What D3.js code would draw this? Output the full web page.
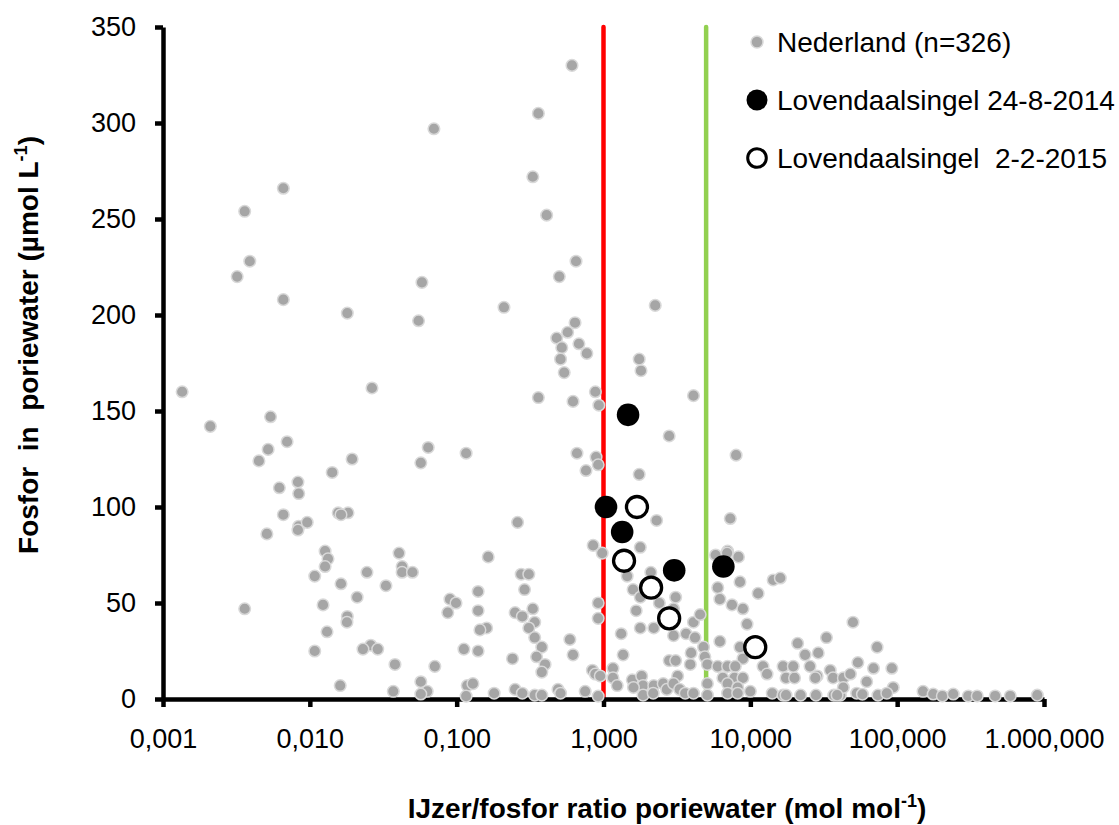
<!DOCTYPE html>
<html>
<head>
<meta charset="utf-8">
<script src="https://cdn.jsdelivr.net/npm/d3@7"></script>
<style>
    body { margin: 0; background: #fff; }
    svg { display: block; font-family: "Liberation Sans", Arial, sans-serif; }
</style>
</head>
<body>
<div id="graph"></div>
<script>
// Nederland (n=326): Fe/P ratio (mol/mol) and P in porewater (umol/L)
const nlRatio = [
    0.00135, 0.0021, 0.0054, 0.0070, 0.0052, 0.0045, 0.0194, 0.0265, 0.064, 0.057, 0.116, 0.0142,
    0.0083, 0.0062, 0.0084, 0.0066, 0.0156, 0.0182, 0.0163, 0.0084, 0.0096, 0.0051, 0.0127, 0.0405,
    0.61, 0.36, 0.070, 0.33, 0.41, 0.65, 0.50, 0.058, 0.0032, 0.0039, 0.0036, 0.0066, 0.0066, 2.25,
    0.21, 0.018, 0.055,
    0.64, 0.57, 0.48, 0.52, 0.68, 0.77, 0.51, 0.54, 1.75, 1.80, 0.88, 0.36, 0.62, 0.93, 4.1, 2.8,
    8.0, 0.66, 0.89, 0.92, 0.76, 1.75, 0.26, 2.3, 7.3, 0.85, 1.78, 7.0, 0.98,
    0.164, 0.275, 0.31, 0.29, 0.92, 0.92, 0.25, 0.33, 0.28, 0.34, 0.31, 0.16, 0.144, 0.14, 0.14,
    0.34, 0.38, 0.35, 0.40, 0.38, 0.24, 0.59, 0.62, 0.14, 0.18, 0.25, 0.28, 0.34, 0.38, 0.49, 0.51,
    0.75, 0.84, 0.88, 0.95, 0.92,
    1.16, 1.16, 1.24, 1.32, 1.36, 1.45, 1.59, 1.67, 1.78, 1.78, 2.1, 2.2, 2.4, 3.1, 3.0, 3.0, 3.65,
    4.1, 4.55, 4.2, 3.95, 4.8, 4.9, 3.9, 5.1, 2.8, 3.1, 3.2, 1.57, 1.82, 1.86, 1.6, 2.2, 1.86, 2.18,
    2.55, 2.7, 3.0, 3.3, 3.6, 4.1, 5.1, 5.1,
    5.8, 6.95, 8.3, 8.5, 6.0, 6.2, 7.5, 8.9, 9.5, 11.3, 14.3, 16, 6.2, 8.5, 8.9, 6.0, 7.0, 7.9, 6.5,
    7.8, 8.9, 7.0, 8.2, 7.0, 8.2, 10, 12.2, 13, 14.1, 16.7, 17.5, 16.7, 20, 21, 23.6, 29, 33, 50,
    25.5, 28.5, 35, 36.6, 43, 48, 54, 62, 22, 28, 37, 41, 53, 58, 73, 74,
    19.6, 69, 92, 27.7, 43, 94, 85, 17.5, 39, 150, 176, 203, 241, 305, 351, 465, 589, 900,
    0.0083, 0.0133, 0.0127, 0.0108, 0.0245, 0.0163, 0.033, 0.0425, 0.0425, 0.05, 0.021, 0.0123,
    0.0036, 0.018, 0.0179, 0.0131, 0.026, 0.023, 0.029, 0.0108, 0.038, 0.071, 0.0161, 0.037, 0.057,
    0.063, 0.057, 0.090, 0.099, 0.087, 0.112, 0.118, 0.129, 0.116
];
const nlP = [
    160, 142, 147, 134, 130, 124, 125, 162, 131, 123, 128, 118,
    113, 110, 107, 96, 97, 97, 96, 90, 92, 86, 77, 76,
    330, 305, 297, 272, 252, 228, 220, 217, 220, 228, 254, 266, 208, 205,
    204, 201, 197,
    196, 191, 188, 183, 185, 180, 177, 170, 177, 171, 160, 157, 155, 153, 158, 137,
    127, 128, 126, 122, 119, 117, 92, 93, 94, 80, 79, 77, 76,
    74, 65, 65, 57, 50, 42, 45, 47, 43, 40, 37, 37, 36, 46, 56,
    32, 27, 22, 18, 14, 21, 31, 23, 25, 3, 5, 3, 2, 2, 5, 3,
    4, 15, 13, 12, 1.5,
    16, 11, 7, 34, 23, 64, 57, 46, 37, 53, 66, 37, 50, 53, 47, 33, 34,
    40, 44, 32, 24, 27, 22, 18, 18, 20, 20, 12, 10, 12, 7, 6, 7, 2, 3,
    8, 5, 8, 5, 3, 3, 8, 2,
    75, 76, 74, 61, 58, 52, 49, 47, 39, 55, 62, 63, 30, 27, 21, 17, 17, 17, 11,
    11, 11, 8, 6, 3, 3, 4, 17, 13, 3, 17, 11, 2, 11, 29, 23, 24, 32, 40,
    17, 12, 15, 11, 11, 13, 19, 9, 2, 2, 2, 2, 3, 2.5, 27, 2,
    17, 16, 16, 11, 6, 6, 3, 2, 2, 4, 2.6, 1.6, 2.6, 1.6, 1.6, 1.6, 1.6, 2,
    88, 73, 69, 64, 66, 60, 59, 69, 66, 66, 53, 49,
    47, 43, 40, 35, 28, 26, 26, 25, 18, 17, 7, 4, 9,
    4, 2.6, 52, 50, 45, 26, 7, 8, 1.5
];

// Lovendaalsingel 24-8-2014 (filled) and 2-2-2015 (open)
const lov2014Ratio = [1.47, 1.04, 1.34, 3.03, 6.55];
const lov2014P = [148, 100, 87, 67, 69];
const lov2015Ratio = [1.69, 1.38, 2.11, 2.80, 10.8];
const lov2015P = [100, 72, 58, 42, 27];

// threshold lines (Fe/P ratio)
const thresholds = [1, 5];
const thresholdColors = ["#ff0000", "#92d050"];

const xTickValues = [0.001, 0.01, 0.1, 1, 10, 100, 1000];
const xTickLabels = ["0,001", "0,010", "0,100", "1,000", "10,000", "100,000", "1.000,000"];
const yTicks = [0, 50, 100, 150, 200, 250, 300, 350];

const legendLabels = ["Nederland (n=326)", "Lovendaalsingel 24-8-2014", "Lovendaalsingel  2-2-2015"];

const width = 1119;
const height = 825;
const margin = {top: 27, right: 75, bottom: 126, left: 163};

const svg = d3.select("#graph").append("svg")
    .attr("width", width)
    .attr("height", height)
    .attr("viewBox", [0, 0, width, height]);

const xScale = d3.scaleLog()
    .domain([0.001, 1000])
    .range([margin.left, width - margin.right]);

const yScale = d3.scaleLinear()
    .domain([0, 350])
    .range([height - margin.bottom, margin.top]);

const xAxis = d3.axisBottom(xScale)
    .tickValues(xTickValues)
    .tickFormat((d, i) => xTickLabels[i])
    .tickSize(8)
    .tickSizeOuter(0)
    .tickPadding(22);

const yAxis = d3.axisLeft(yScale)
    .tickValues(yTicks)
    .tickSize(8)
    .tickSizeOuter(0)
    .tickPadding(19);

// threshold lines go under the points
svg.append("g")
    .selectAll("line")
    .data(thresholds)
    .join("line")
        .attr("x1", d => xScale(d))
        .attr("x2", d => xScale(d))
        .attr("y1", yScale(0))
        .attr("y2", yScale(350))
        .attr("stroke", (d, i) => thresholdColors[i])
        .attr("stroke-width", 4.5)
        .attr("stroke-linecap", "round");

svg.append("g")
    .attr("transform", `translate(0,${yScale(0)})`)
    .call(xAxis)
    .call(g => g.select(".domain").attr("stroke-width", 4.5))
    .call(g => g.selectAll(".tick line").attr("stroke-width", 4.5))
    .call(g => g.selectAll(".tick text").attr("font-size", 27).attr("font-family", null));

svg.append("g")
    .attr("transform", `translate(${xScale(0.001)},0)`)
    .call(yAxis)
    .call(g => g.select(".domain").attr("stroke-width", 4.5))
    .call(g => g.selectAll(".tick line").attr("stroke-width", 4.5))
    .call(g => g.selectAll(".tick text").attr("font-size", 27).attr("font-family", null));

// Nederland points
svg.append("g")
    .selectAll("circle")
    .data(d3.range(nlRatio.length))
    .join("circle")
        .attr("cx", i => xScale(nlRatio[i]))
        .attr("cy", i => yScale(nlP[i]))
        .attr("r", 5.8)
        .attr("fill", "#a6a6a6")
        .attr("stroke", "#d9d9d9")
        .attr("stroke-width", 1.5);

svg.append("g")
    .selectAll("circle")
    .data(d3.range(lov2014Ratio.length))
    .join("circle")
        .attr("cx", i => xScale(lov2014Ratio[i]))
        .attr("cy", i => yScale(lov2014P[i]))
        .attr("r", 11.3)
        .attr("fill", "#000");

svg.append("g")
    .selectAll("circle")
    .data(d3.range(lov2015Ratio.length))
    .join("circle")
        .attr("cx", i => xScale(lov2015Ratio[i]))
        .attr("cy", i => yScale(lov2015P[i]))
        .attr("r", 10.5)
        .attr("fill", "#fff")
        .attr("stroke", "#000")
        .attr("stroke-width", 3.3);

// axis titles
const xTitle = svg.append("text")
    .attr("x", 667)
    .attr("y", 818)
    .attr("text-anchor", "middle")
    .attr("font-size", 28)
    .attr("font-weight", "bold");
xTitle.append("tspan").text("IJzer/fosfor ratio poriewater (mol mol");
xTitle.append("tspan").attr("font-size", 18).attr("dy", -11).text("-1");
xTitle.append("tspan").attr("dy", 11).text(")");

const yTitle = svg.append("text")
    .attr("transform", "translate(38,345) rotate(-90)")
    .attr("text-anchor", "middle")
    .attr("font-size", 28)
    .attr("font-weight", "bold")
    .style("white-space", "pre");
yTitle.append("tspan").text("Fosfor  in  poriewater (µmol L");
yTitle.append("tspan").attr("font-size", 18).attr("dy", -11).text("-1");
yTitle.append("tspan").attr("dy", 11).text(")");

// legend
const legend = svg.append("g")
    .attr("transform", "translate(757,42)");

const legendRows = legend.selectAll("g")
    .data(legendLabels)
    .join("g")
        .attr("transform", (d, i) => `translate(0,${i * 58})`);

legendRows.append("circle")
    .attr("r", (d, i) => [6, 10.5, 9.3][i])
    .attr("fill", (d, i) => ["#a6a6a6", "#000", "#fff"][i])
    .attr("stroke", (d, i) => ["#d9d9d9", "none", "#000"][i])
    .attr("stroke-width", (d, i) => [1.5, 0, 3][i]);

legendRows.append("text")
    .attr("x", 20)
    .attr("y", 10)
    .attr("font-size", 28)
    .style("white-space", "pre")
    .text(d => d);
</script>
</body>
</html>
